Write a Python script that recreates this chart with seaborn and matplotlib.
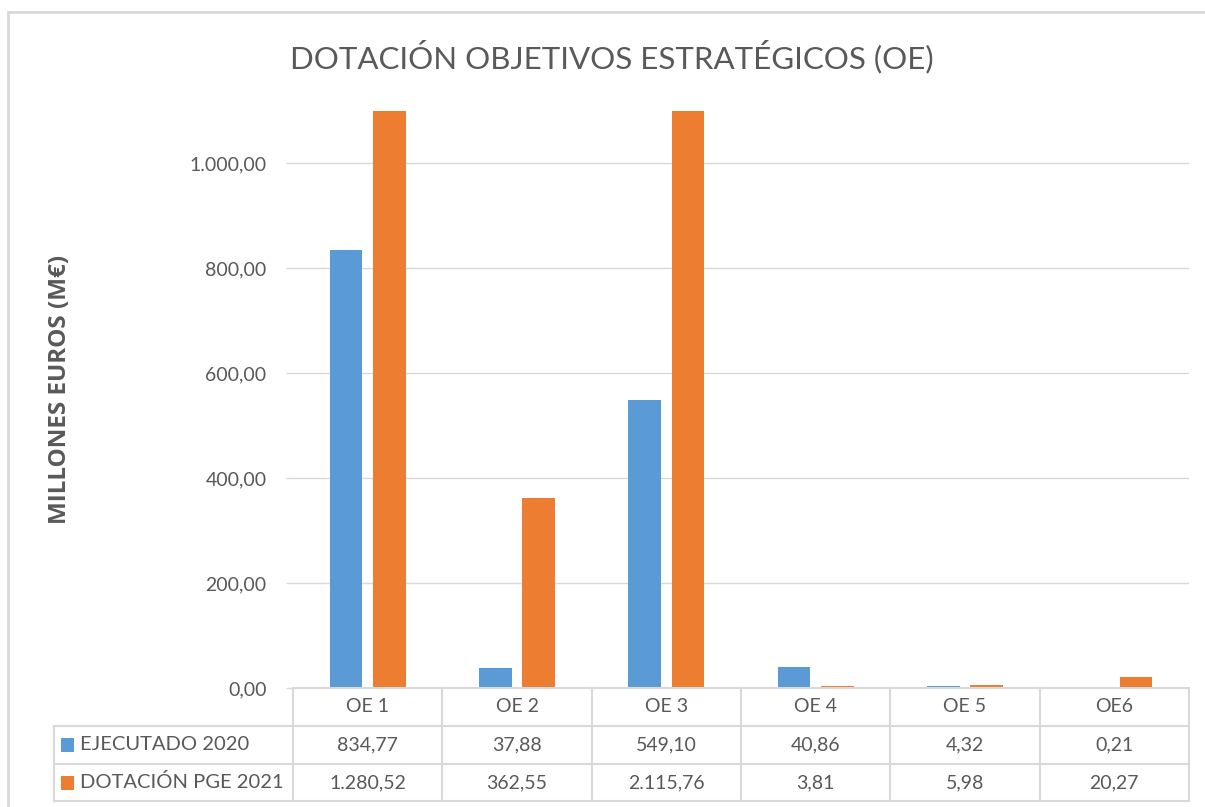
import seaborn as sns
import matplotlib.pyplot as plt
import matplotlib.transforms as mtransforms
from matplotlib.patches import Rectangle
import pandas as pd

# Data
categorias = ['OE 1', 'OE 2', 'OE 3', 'OE 4', 'OE 5', 'OE6']
series = ['EJECUTADO 2020', 'DOTACIÓN PGE 2021']
ejecutado_2020 = [834.77, 37.88, 549.10, 40.86, 4.32, 0.21]
dotacion_2021 = [1280.52, 362.55, 2115.76, 3.81, 5.98, 20.27]
yticks = [0, 200, 400, 600, 800, 1000]
colores = ['#5B9BD5', '#ED7D31']

gris = '#595959'
linea = '#D9D9D9'

def fmt_es(v):
    s = f'{v:,.2f}'
    return s.replace(',', 'X').replace('.', ',').replace('X', '.')

df = pd.DataFrame({'Categoria': categorias,
                   series[0]: ejecutado_2020,
                   series[1]: dotacion_2021})
df_long = df.melt(id_vars='Categoria', var_name='Serie', value_name='Valor')

sns.set_style('white')
plt.rcParams['font.family'] = ['Lato', 'DejaVu Sans']

fig = plt.figure(figsize=(12.05, 8.07), dpi=100)
ax = fig.add_axes([293 / 1205, 1 - 688 / 807, 896 / 1205, 577 / 807])

sns.barplot(data=df_long, x='Categoria', y='Valor', hue='Serie',
            palette=colores, saturation=1, width=0.58, gap=0.24,
            linewidth=0, legend=False, ax=ax)

ax.set_xlim(-0.5, len(categorias) - 0.5)
ax.set_ylim(0, 1100)
ax.set_yticks(yticks)
ax.set_yticklabels([fmt_es(v) for v in yticks], color=gris, fontsize=14)
ax.tick_params(axis='y', length=5, width=1, color=linea, pad=14, left=True)
ax.tick_params(axis='x', bottom=False, labelbottom=False)
ax.yaxis.grid(True, color=linea, linewidth=1)
ax.set_axisbelow(True)
for s in ax.spines.values():
    s.set_visible(False)
ax.set_xlabel('')
ax.set_ylabel('MILLONES EUROS (M€)', fontsize=17.5, fontweight='bold',
              family=['Open Sans', 'DejaVu Sans'], color=gris, labelpad=0)
ax.yaxis.set_label_coords(-(293 - 60) / 896, 1 - (389 - 111) / 577)
ax.yaxis.label.set_verticalalignment('center')

fig.text(612 / 1205, 1 - 57 / 807, 'DOTACIÓN OBJETIVOS ESTRATÉGICOS (OE)',
         ha='center', va='center', fontsize=22.5, color=gris)

# Data table under the chart
tr = mtransforms.blended_transform_factory(ax.transData, ax.transAxes)
y_rows = [0, -38 / 577, -76 / 577, -113 / 577]
x_left_lab = -0.5 - (293 - 54) / 149.3
x_min, x_max = -0.5, len(categorias) - 0.5
lkw = dict(color=linea, linewidth=1.5, transform=tr, clip_on=False)
ax.plot([x_min, x_max], [y_rows[0]] * 2, **lkw)
for y in y_rows[1:]:
    ax.plot([x_left_lab, x_max], [y, y], **lkw)
ax.plot([x_left_lab, x_left_lab], [y_rows[1], y_rows[3]], **lkw)
for i in range(len(categorias) + 1):
    ax.plot([i - 0.5, i - 0.5], [y_rows[0], y_rows[3]], **lkw)

tkw = dict(transform=tr, ha='center', va='center', color=gris, fontsize=14,
           clip_on=False)
for i, c in enumerate(categorias):
    ax.text(i, (y_rows[0] + y_rows[1]) / 2, c, **tkw)
    ax.text(i, (y_rows[1] + y_rows[2]) / 2, fmt_es(ejecutado_2020[i]), **tkw)
    ax.text(i, (y_rows[2] + y_rows[3]) / 2, fmt_es(dotacion_2021[i]), **tkw)

x_sq = -0.5 - (293 - 61) / 149.3
x_txt = -0.5 - (293 - 80) / 149.3
for j, nombre in enumerate(series):
    yc = (y_rows[j + 1] + y_rows[j + 2]) / 2
    ax.add_patch(Rectangle((x_sq, yc - 7 / 577), 13 / 149.3, 14 / 577,
                           facecolor=colores[j], edgecolor='none',
                           transform=tr, clip_on=False))
    ax.text(x_txt, yc, nombre, transform=tr, ha='left', va='center',
            color=gris, fontsize=14.5, clip_on=False)

# Chart frame
fig.patches.append(Rectangle((8 / 1205, -0.1), 1.2, 1 - 12 / 807 + 0.1,
                             transform=fig.transFigure, fill=False,
                             edgecolor=linea, linewidth=2))

plt.savefig('out.png', dpi=100)
